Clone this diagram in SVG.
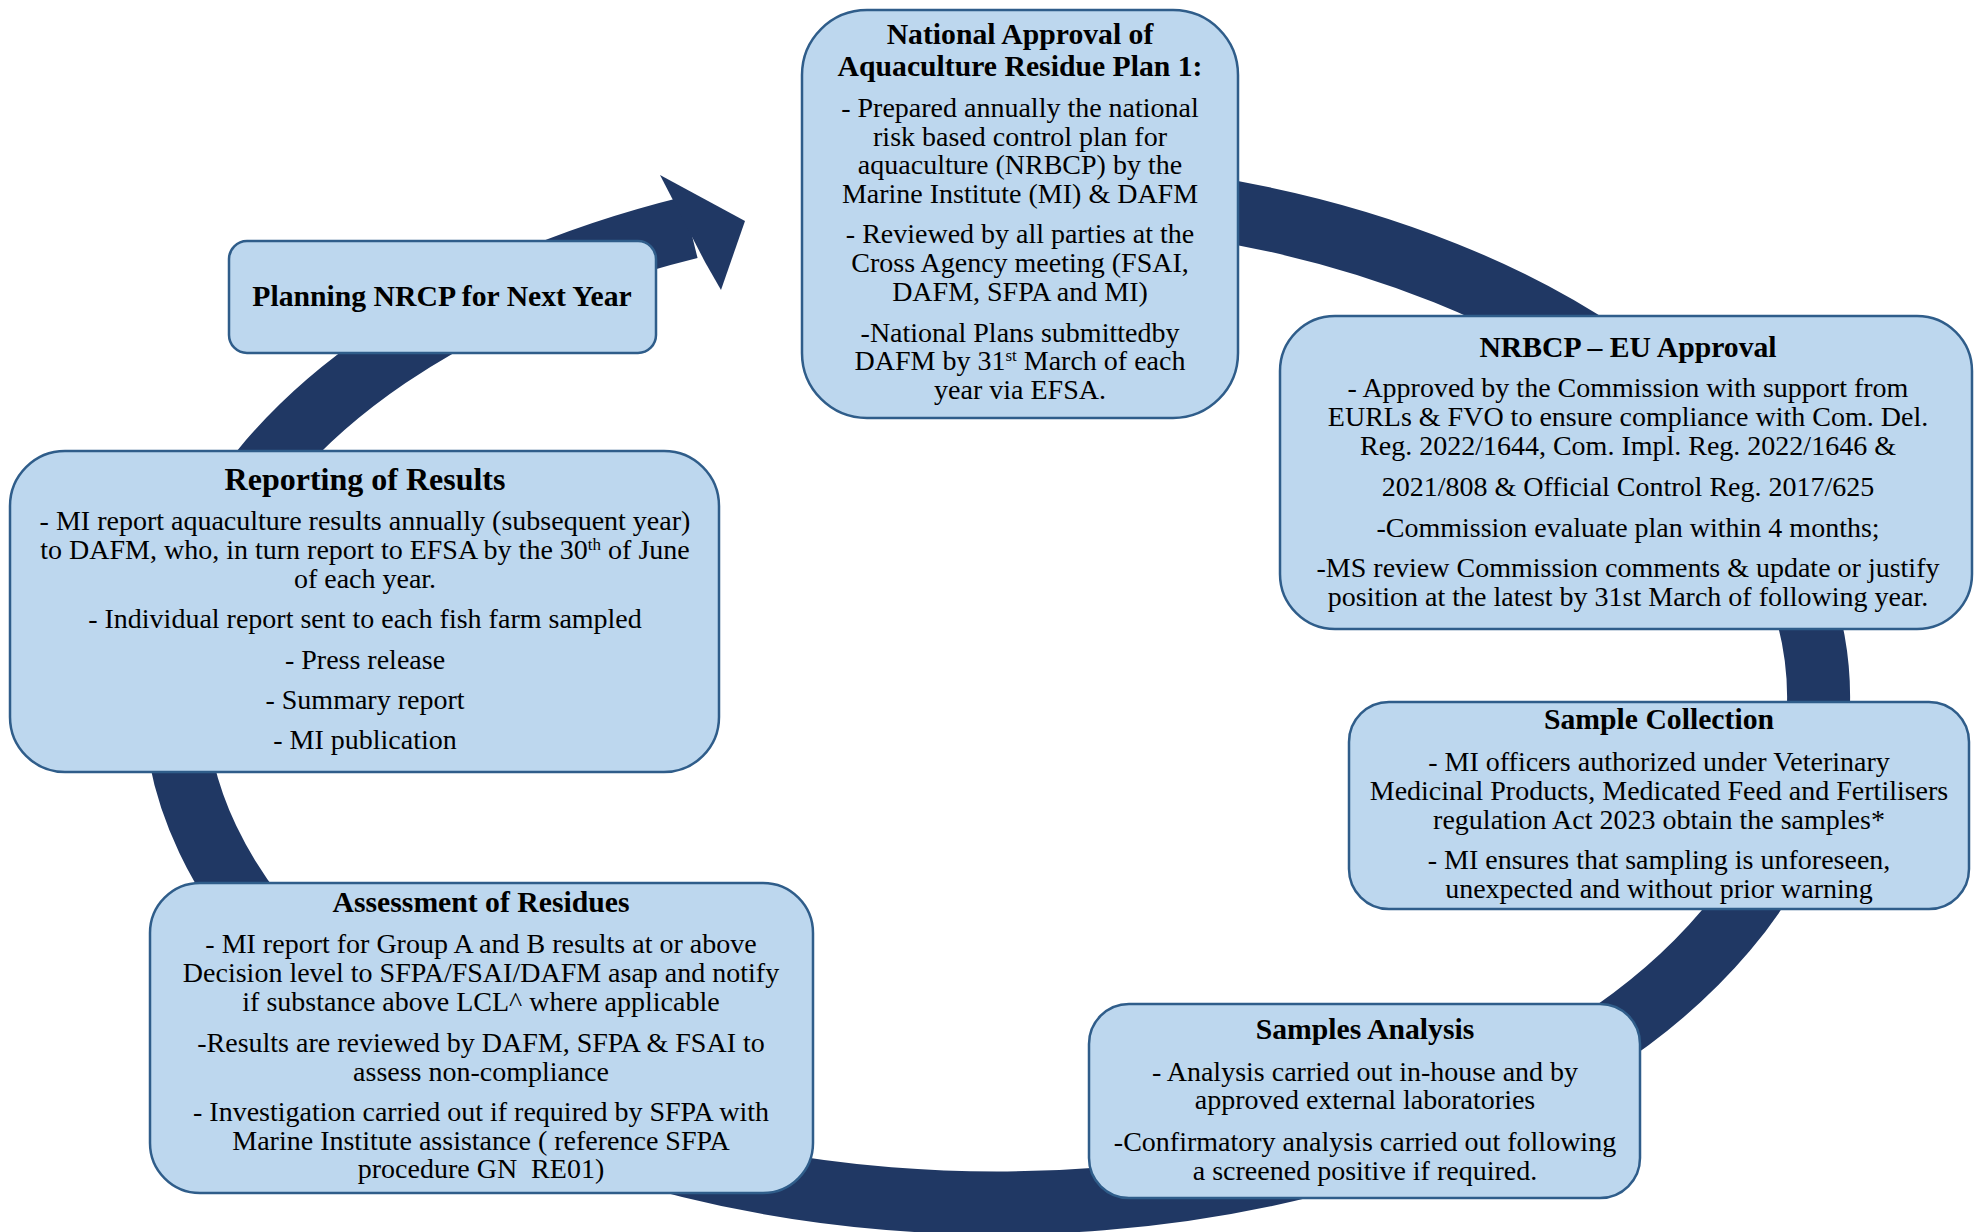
<svg xmlns="http://www.w3.org/2000/svg" width="1975" height="1232" viewBox="0 0 1975 1232">
<style>
.box{fill:#BDD7EE;stroke:#2F5D8A;stroke-width:2.5}
.t{font-family:"Liberation Serif","Times New Roman",serif;font-size:29.7px;font-weight:bold;fill:#000;text-anchor:middle}
.t2{font-size:32px}
.b{font-family:"Liberation Serif","Times New Roman",serif;font-size:28px;fill:#000;text-anchor:middle}
.sup{font-size:17px;baseline-shift:super}
.ring{fill:none;stroke:#203864;stroke-width:63}
</style>
<g id="connectors">
<path class="ring" d="M1100,195 A822,506 0 1 1 690,227.5"/>
<polygon points="660,175 745,221 721,290 705,262 675,204" fill="#203864"/>
</g>
<g id="node-national-approval">
<rect class="box" x="802" y="10" width="436" height="408" rx="65" ry="65"/>
<text class="t" x="1020" y="44">National Approval of</text>
<text class="t" x="1020" y="76">Aquaculture Residue Plan 1:</text>
<text class="b" x="1020" y="117">- Prepared annually the national</text>
<text class="b" x="1020" y="146">risk based control plan for</text>
<text class="b" x="1020" y="174">aquaculture (NRBCP) by the</text>
<text class="b" x="1020" y="203">Marine Institute (MI) &amp; DAFM</text>
<text class="b" x="1020" y="243">- Reviewed by all parties at the</text>
<text class="b" x="1020" y="272">Cross Agency meeting (FSAI,</text>
<text class="b" x="1020" y="301">DAFM, SFPA and MI)</text>
<text class="b" x="1020" y="342">-National Plans submittedby</text>
<text class="b" x="1020" y="370">DAFM by 31<tspan class="sup">st</tspan> March of each</text>
<text class="b" x="1020" y="399">year via EFSA.</text>
</g>
<g id="node-eu-approval">
<rect class="box" x="1280" y="316" width="692" height="313" rx="55" ry="55"/>
<text class="t" x="1628" y="357">NRBCP – EU Approval</text>
<text class="b" x="1628" y="397">- Approved by the Commission with support from</text>
<text class="b" x="1628" y="426">EURLs &amp; FVO to ensure compliance with Com. Del.</text>
<text class="b" x="1628" y="455">Reg. 2022/1644, Com. Impl. Reg. 2022/1646 &amp;</text>
<text class="b" x="1628" y="496">2021/808 &amp; Official Control Reg. 2017/625</text>
<text class="b" x="1628" y="537">-Commission evaluate plan within 4 months;</text>
<text class="b" x="1628" y="577">-MS review Commission comments &amp; update or justify</text>
<text class="b" x="1628" y="606">position at the latest by 31st March of following year.</text>
</g>
<g id="node-sample-collection">
<rect class="box" x="1349" y="702" width="620" height="207" rx="40" ry="40"/>
<text class="t" x="1659" y="729">Sample Collection</text>
<text class="b" x="1659" y="771">- MI officers authorized under Veterinary</text>
<text class="b" x="1659" y="800">Medicinal Products, Medicated Feed and Fertilisers</text>
<text class="b" x="1659" y="829">regulation Act 2023 obtain the samples*</text>
<text class="b" x="1659" y="869">- MI ensures that sampling is unforeseen,</text>
<text class="b" x="1659" y="898">unexpected and without prior warning</text>
</g>
<g id="node-samples-analysis">
<rect class="box" x="1089" y="1004" width="551" height="194" rx="40" ry="40"/>
<text class="t" x="1365" y="1039">Samples Analysis</text>
<text class="b" x="1365" y="1081">- Analysis carried out in-house and by</text>
<text class="b" x="1365" y="1109">approved external laboratories</text>
<text class="b" x="1365" y="1151">-Confirmatory analysis carried out following</text>
<text class="b" x="1365" y="1180">a screened positive if required.</text>
</g>
<g id="node-assessment">
<rect class="box" x="150" y="883" width="663" height="310" rx="50" ry="50"/>
<text class="t" x="481" y="912">Assessment of Residues</text>
<text class="b" x="481" y="953">- MI report for Group A and B results at or above</text>
<text class="b" x="481" y="982">Decision level to SFPA/FSAI/DAFM asap and notify</text>
<text class="b" x="481" y="1011">if substance above LCL^ where applicable</text>
<text class="b" x="481" y="1052">-Results are reviewed by DAFM, SFPA &amp; FSAI to</text>
<text class="b" x="481" y="1081">assess non-compliance</text>
<text class="b" x="481" y="1121">- Investigation carried out if required by SFPA with</text>
<text class="b" x="481" y="1150">Marine Institute assistance ( reference SFPA</text>
<text class="b" x="481" y="1178" xml:space="preserve">procedure GN  RE01)</text>
</g>
<g id="node-reporting">
<rect class="box" x="10" y="451" width="709" height="321" rx="55" ry="55"/>
<text class="t t2" x="365" y="490">Reporting of Results</text>
<text class="b" x="365" y="530">- MI report aquaculture results annually (subsequent year)</text>
<text class="b" x="365" y="559">to DAFM, who, in turn report to EFSA by the 30<tspan class="sup">th</tspan> of June</text>
<text class="b" x="365" y="588">of each year.</text>
<text class="b" x="365" y="628">- Individual report sent to each fish farm sampled</text>
<text class="b" x="365" y="669">- Press release</text>
<text class="b" x="365" y="709">- Summary report</text>
<text class="b" x="365" y="749">- MI publication</text>
</g>
<g id="node-planning">
<rect class="box" x="229" y="241" width="427" height="112" rx="18" ry="18"/>
<text class="t" x="442" y="306">Planning NRCP for Next Year</text>
</g>
</svg>
